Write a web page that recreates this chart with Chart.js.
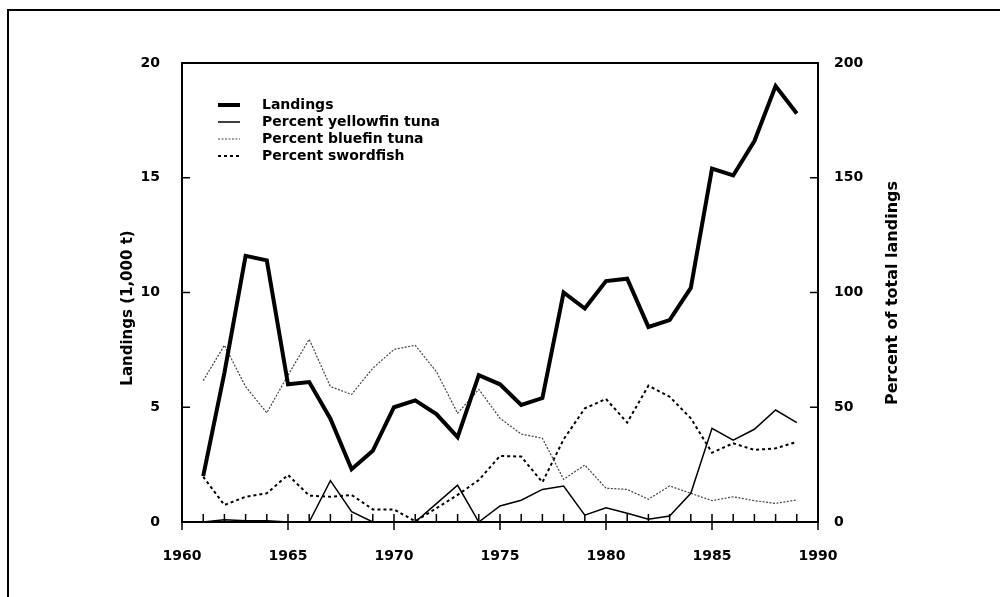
<!DOCTYPE html>
<html>
<head>
<meta charset="utf-8">
<script src="https://cdn.jsdelivr.net/npm/chart.js@4.4.1/dist/chart.umd.min.js"></script>
<style>
  body { margin: 0; background: #fff; }
  #wrap { width: 1000px; height: 597px; position: relative; }
</style>
</head>
<body>
<div id="wrap"><canvas id="chart"></canvas></div>
<script>
// data
const years = [1961, 1962, 1963, 1964, 1965, 1966, 1967, 1968, 1969, 1970,
  1971, 1972, 1973, 1974, 1975, 1976, 1977, 1978, 1979, 1980,
  1981, 1982, 1983, 1984, 1985, 1986, 1987, 1988, 1989];
const landings = [2.0, 6.5, 11.6, 11.4, 6.0, 6.1, 4.5, 2.3, 3.1, 5.0,
  5.3, 4.7, 3.7, 6.4, 6.0, 5.1, 5.4, 10.0, 9.3, 10.5,
  10.6, 8.5, 8.8, 10.2, 15.4, 15.1, 16.6, 19.0, 17.8];
const yellowfin = [0, 1, 0.5, 0.5, 0, 0, 18, 4.5, 0, 0,
  0, 8, 16, 0, 7, 9.5, 14.2, 15.7, 3, 6.2,
  3.8, 1.2, 2.6, 12.5, 40.8, 35.7, 40.4, 48.8, 43.3];
const bluefin = [61.6, 77, 59, 47.6, 64, 79.6, 59, 55.6, 67, 75.2,
  77, 65.5, 47.4, 57.8, 45.2, 38.3, 36.5, 18.6, 24.8, 14.7,
  14.2, 9.9, 15.7, 12.5, 9.3, 11, 9.3, 8.1, 9.6];
const swordfish = [19.7, 7.4, 11, 12.5, 20.5, 11.5, 11, 11.8, 5.5, 5.5,
  0.3, 6, 11.8, 18.3, 28.8, 28.5, 17.3, 36, 49.5, 53.6,
  43.3, 59.4, 54.6, 45.2, 30.2, 34.3, 31.4, 32.1, 34.9];

const seriesLabels = ["Landings", "Percent yellowfin tuna", "Percent bluefin tuna", "Percent swordfish"];
const leftTitle = "Landings (1,000 t)";
const rightTitle = "Percent of total landings";

const pts = (arr) => arr.map((v, i) => ({ x: years[i], y: v }));

Chart.defaults.font.family = "'DejaVu Sans', sans-serif";
Chart.defaults.font.weight = "bold";
Chart.defaults.font.size = 14;
Chart.defaults.color = "#000";

// box, ticks, titles, legend
const decor = {
  id: "decor",
  afterDraw(chart) {
    const ctx = chart.ctx;
    const a = chart.chartArea;
    const sx = chart.scales.x, sy = chart.scales.y, sy1 = chart.scales.y1;
    ctx.save();
    ctx.strokeStyle = "#000";

    // page frame
    ctx.lineWidth = 2;
    ctx.beginPath();
    ctx.moveTo(8, 597);
    ctx.lineTo(8, 10);
    ctx.lineTo(1000, 10);
    ctx.stroke();

    // plot box
    ctx.lineWidth = 2;
    ctx.strokeRect(a.left, a.top, a.right - a.left, a.bottom - a.top);

    // x ticks: every year inward, every 5 crossing
    ctx.lineWidth = 1.5;
    for (let yr = 1960; yr <= 1990; yr++) {
      const px = sx.getPixelForValue(yr);
      ctx.beginPath();
      if (yr % 5 === 0) {
        ctx.moveTo(px, a.bottom - 8);
        ctx.lineTo(px, a.bottom + 8);
      } else {
        ctx.moveTo(px, a.bottom - 8);
        ctx.lineTo(px, a.bottom);
      }
      ctx.stroke();
    }
    // y ticks inward
    sy.ticks.forEach(t => {
      const py = sy.getPixelForValue(t.value);
      ctx.beginPath();
      ctx.moveTo(a.left, py);
      ctx.lineTo(a.left + 8, py);
      ctx.stroke();
    });
    sy1.ticks.forEach(t => {
      const py = sy1.getPixelForValue(t.value);
      ctx.beginPath();
      ctx.moveTo(a.right, py);
      ctx.lineTo(a.right - 8, py);
      ctx.stroke();
    });

    // axis titles
    ctx.fillStyle = "#000";
    ctx.textAlign = "center";
    ctx.textBaseline = "middle";
    ctx.font = "bold 15px 'DejaVu Sans'";
    ctx.save();
    ctx.translate(128, 308);
    ctx.rotate(-Math.PI / 2);
    ctx.fillText(leftTitle, 0, 0);
    ctx.restore();
    ctx.font = "bold 16px 'DejaVu Sans'";
    ctx.save();
    ctx.translate(893, 293);
    ctx.rotate(-Math.PI / 2);
    ctx.fillText(rightTitle, 0, 0);
    ctx.restore();

    // legend
    ctx.font = "bold 14px 'DejaVu Sans'";
    ctx.textAlign = "left";
    chart.data.datasets.forEach((ds, i) => {
      const ly = 105 + i * 17;
      ctx.save();
      ctx.strokeStyle = ds.borderColor;
      ctx.lineWidth = ds.borderWidth;
      ctx.setLineDash(ds.borderDash || []);
      ctx.beginPath();
      ctx.moveTo(218, ly);
      ctx.lineTo(240, ly);
      ctx.stroke();
      ctx.restore();
      ctx.fillText(ds.label, 262, ly);
    });
    ctx.restore();
  }
};

new Chart(document.getElementById("chart"), {
  type: "line",
  data: {
    datasets: [
      { label: seriesLabels[0], data: pts(landings), yAxisID: "y",
        borderColor: "#000", borderWidth: 4, borderJoinStyle: "miter" },
      { label: seriesLabels[1], data: pts(yellowfin), yAxisID: "y1",
        borderColor: "#000", borderWidth: 1.5 },
      { label: seriesLabels[2], data: pts(bluefin), yAxisID: "y1",
        borderColor: "#444", borderWidth: 1.2, borderDash: [2, 1.5] },
      { label: seriesLabels[3], data: pts(swordfish), yAxisID: "y1",
        borderColor: "#000", borderWidth: 2, borderDash: [3, 3] }
    ]
  },
  options: {
    responsive: true,
    maintainAspectRatio: false,
    animation: false,
    layout: { padding: { top: 63, left: 0, right: 0, bottom: 0 } },
    elements: { point: { radius: 0 }, line: { tension: 0 } },
    plugins: { legend: { display: false }, tooltip: { enabled: false } },
    scales: {
      x: {
        type: "linear", min: 1960, max: 1990,
        ticks: { stepSize: 5, padding: 18, maxRotation: 0, callback: v => String(v) },
        grid: { display: false },
        border: { display: false },
        afterFit: s => { s.height = 75; }
      },
      y: {
        position: "left", min: 0, max: 20,
        ticks: { stepSize: 5, padding: 14 },
        grid: { display: false },
        border: { display: false },
        afterFit: s => { s.width = 182; }
      },
      y1: {
        position: "right", min: 0, max: 200,
        ticks: { stepSize: 50, padding: 8 },
        grid: { display: false },
        border: { display: false },
        afterFit: s => { s.width = 182; }
      }
    }
  },
  plugins: [decor]
});
</script>
</body>
</html>
